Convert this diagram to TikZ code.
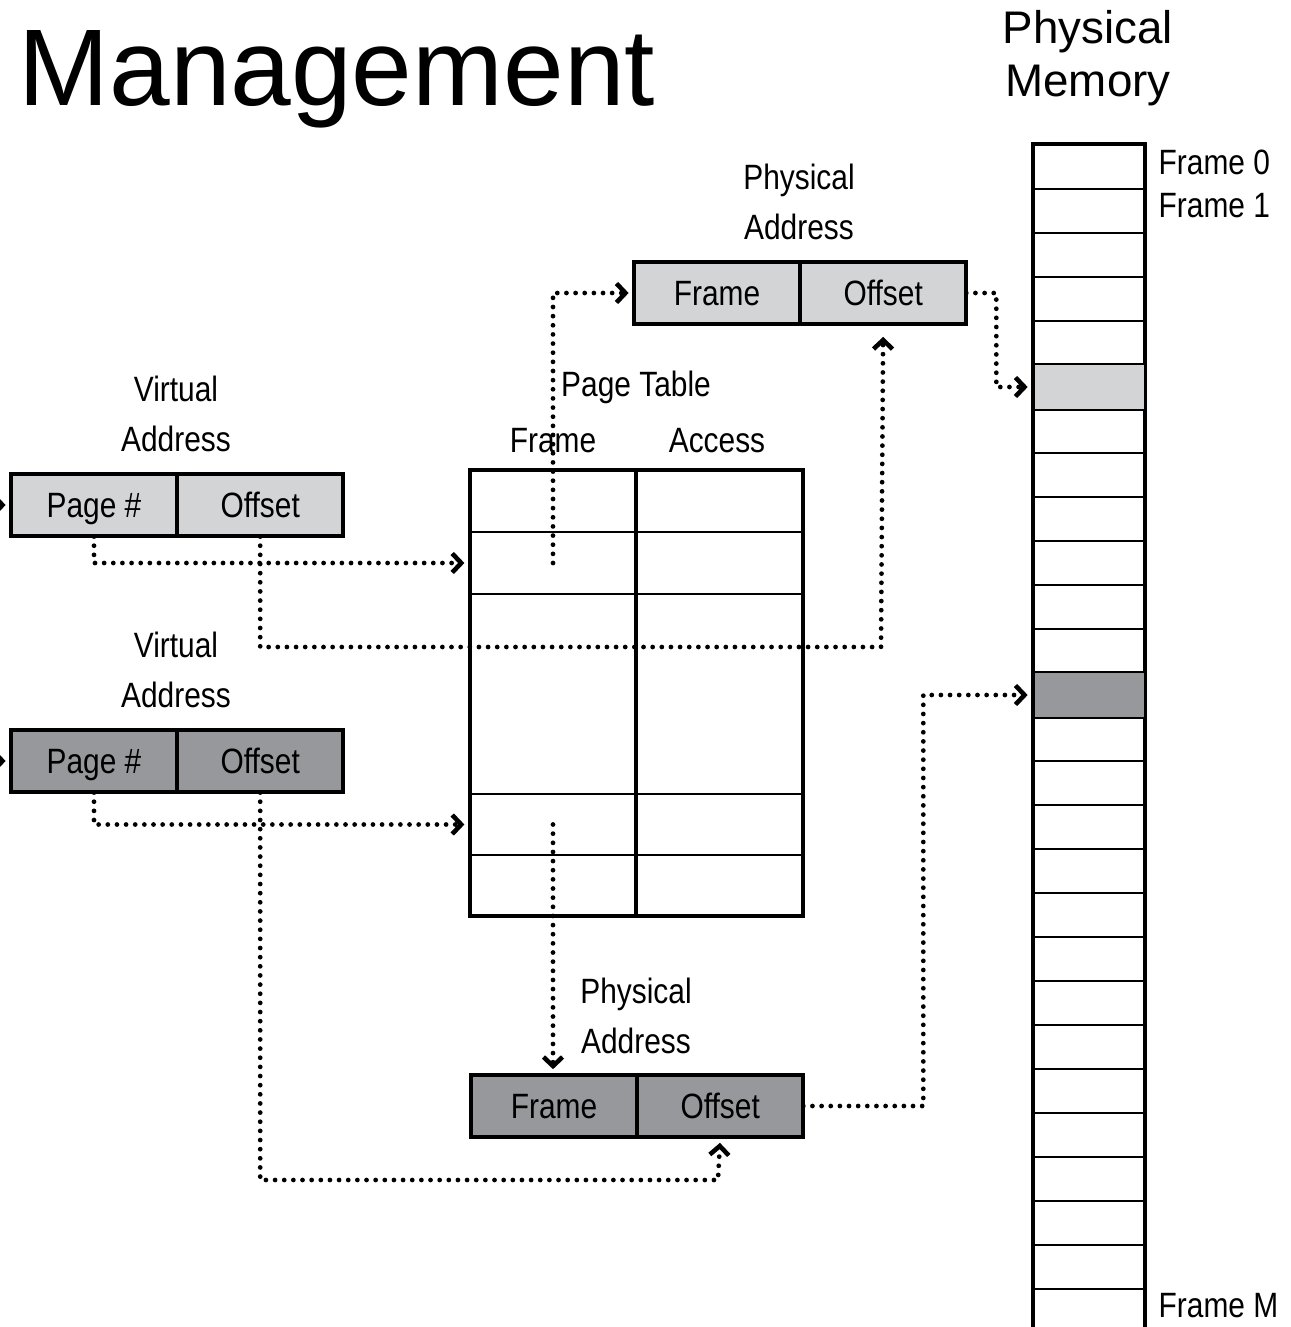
\documentclass[tikz,border=0pt]{standalone}
\usepackage{fontspec}
\setmainfont{Liberation Sans}
\newfontfamily\condfont[FakeStretch=0.85]{Liberation Sans}
\usetikzlibrary{positioning,arrows.meta}
\definecolor{lightgr}{HTML}{D3D4D6}
\definecolor{darkgr}{HTML}{97989B}
\tikzset{
	cell/.style={draw, line width=0.6pt, minimum width=1.64cm, minimum height=0.61cm, inner sep=0pt, text height=0.716em, text depth=0pt, font=\condfont\fontsize{10}{12}\selectfont},
	tcell/.style={draw, line width=0.6pt, minimum width=1.645cm, inner sep=0pt},
	frm/.style={draw, line width=0.6pt, minimum width=1.1cm, minimum height=0.44cm, inner sep=0pt},
	lbl/.style={align=center, inner sep=0pt, font=\condfont\fontsize{10}{14}\selectfont},
	link/.style={line width=1.35pt, dash pattern=on 0pt off 2.6pt, line cap=round, shorten >=1.5pt},
}
\begin{document}
\begin{tikzpicture}[x=0.01cm, y=-0.01cm, >={Straight Barb[length=0.9mm, width=1.9mm, line width=1.3pt]}]
	\useasboundingbox (0,0) rectangle (1291,1327);
	% titles
	\node[anchor=base west, inner sep=0pt, font=\fontsize{31}{31}\selectfont] (title) at (18,105) {Management};
	\node[align=center, inner sep=0pt, font=\fontsize{13}{15}\selectfont] (memlbl) at (1088,58) {Physical\\Memory};
	% physical memory
	\foreach \k in {0,...,26} \node[frm] (m\k) at (1089,{167+44*\k}) {};
	\draw[line width=0.6pt, fill=lightgr] (m5.north west) rectangle (m5.south east);
	\draw[line width=0.6pt, fill=darkgr] (m12.north west) rectangle (m12.south east);
	\draw[line width=0.9pt] (m26.south west) -- (m0.north west) -- (m0.north east) -- (m26.south east);
	\node[lbl, anchor=base west] (fl0) at (1158,174.5) {Frame 0};
	\node[lbl, anchor=base west] (fl1) at (1158,217.5) {Frame 1};
	\node[lbl, anchor=base west] (flm) at (1158,1317.5) {Frame M};
	% page table
	\foreach \i/\y/\h in {1/501.5/0.61, 2/563/0.62, 3/694/2.0, 4/824.5/0.61, 5/885/0.60} {
		\node[tcell, minimum height=\h cm] (f\i) at (553,\y) {};
		\node[tcell, minimum height=\h cm, right=0pt of f\i] (a\i) {};
	}
	\draw[line width=0.9pt] (f1.north west) rectangle (a5.south east);
	\node[lbl, anchor=base] (pthead) at (636,396) {Page Table};
	\node[lbl, anchor=base] (fhead) at (553,452) {Frame};
	\node[lbl, anchor=base] (ahead) at (717,452) {Access};
	% physical address, top
	\node[cell, fill=lightgr] (paf) at (717,293) {Frame};
	\node[cell, fill=lightgr, right=0pt of paf] (pao) {Offset};
	\draw[line width=0.9pt] (paf.north west) rectangle (pao.south east);
	\node[lbl] (palbl) at (799,202) {Physical\\Address};
	% virtual addresses
	\node[cell, fill=lightgr] (vap1) at (94,505) {Page \#};
	\node[cell, fill=lightgr, right=0pt of vap1] (vao1) {Offset};
	\draw[line width=0.9pt] (vap1.north west) rectangle (vao1.south east);
	\node[lbl] (valbl1) at (176,414) {Virtual\\Address};
	\node[cell, fill=darkgr] (vap2) at (94,761) {Page \#};
	\node[cell, fill=darkgr, right=0pt of vap2] (vao2) {Offset};
	\draw[line width=0.9pt] (vap2.north west) rectangle (vao2.south east);
	\node[lbl] (valbl2) at (176,670) {Virtual\\Address};
	% physical address, bottom
	\node[cell, fill=darkgr] (pbf) at (554,1106) {Frame};
	\node[cell, fill=darkgr, right=0pt of pbf] (pbo) {Offset};
	\draw[line width=0.9pt] (pbf.north west) rectangle (pbo.south east);
	\node[lbl] (pblbl) at (636,1016) {Physical\\Address};
	% links
	\coordinate (in1) at (-5,505);
	\coordinate (in2) at (-5,761);
	\coordinate (t1) at (881,647);
	\coordinate (t2) at (718,1180);
	\draw[link,->] (in1) -- (vap1);
	\draw[link,->] (vap1.south) |- (f2.west);
	\draw[link,->,shorten >=3.5pt] (vao1.south) |- (t1) -- (pao.south);
	\draw[link,->] (f2.center) |- (paf.west);
	\draw[link,->] (pao.east) -- ++(30,0) |- (m5.west);
	\draw[link,->] (in2) -- (vap2);
	\draw[link,->] (vap2.south) |- (f4.west);
	\draw[link,->] (vao2.south) |- (t2) -- (pbo.south);
	\draw[link,->] (f4.center) -- (f4.center |- pbf.north);
	\draw[link,->] (pbo.east) -- ++(120,0) |- (m12.west);
\end{tikzpicture}
\end{document}
